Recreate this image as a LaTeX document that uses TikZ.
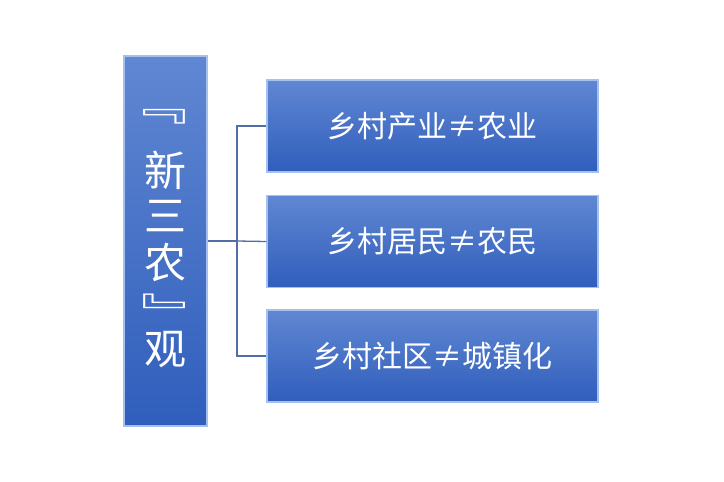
\documentclass[tikz,border=0pt]{standalone}
\usepackage{fontspec}
\newfontfamily\cjk{Noto Sans CJK SC}
\usepackage{tikz}
\usetikzlibrary{positioning,calc}
\definecolor{boxtop}{RGB}{96,135,210}
\definecolor{boxbot}{RGB}{48,94,188}
\definecolor{boxedge}{RGB}{165,192,238}
\definecolor{wire}{RGB}{82,110,168}
\tikzset{
  bluebox/.style={rectangle,draw=boxedge,line width=1.2pt,top color=boxtop,bottom color=boxbot,
    text=white,inner sep=0pt,font=\cjk},
  itembox/.style={bluebox,minimum width=331pt,minimum height=92pt,font=\cjk\fontsize{30}{34}\selectfont},
  titlechar/.style={text=white,inner sep=0pt,font=\cjk\fontsize{42}{46}\selectfont},
  wireline/.style={draw=wire,line width=1.3pt}
}
\begin{document}
\begin{tikzpicture}[x=1pt,y=-1pt]
\useasboundingbox (0,0) rectangle (724,482);
% title column
\node[bluebox,minimum width=83pt,minimum height=370pt] (title) at (165.5,241) {};
\node[titlechar,xscale=1.5] (lbrack) at (155.5,117) {﹃};
\foreach \ch/\yy/\nm in {新/170/xin,三/216/san,农/263/nong,观/350/guan}
  \node[titlechar] (\nm) at (165.5,\yy) {\ch};
\node[titlechar,xscale=1.5] (rbrack) at (172.5,311.5) {﹄};

% three items
\node[itembox] (industry) at (432.5,126) {乡村产业≠农业};
\node[itembox] (resident) at (432.5,241.5) {乡村居民≠农民};
\node[itembox] (community) at (432.5,356) {乡村社区≠城镇化};

% connectors
\coordinate (trunk) at (237,241);
\draw[wireline] (title.east) -- (trunk);
\draw[wireline] (industry.west) -| (trunk) |- (community.west);
\draw[wireline] (trunk) -- (resident.west);
\end{tikzpicture}
\end{document}
